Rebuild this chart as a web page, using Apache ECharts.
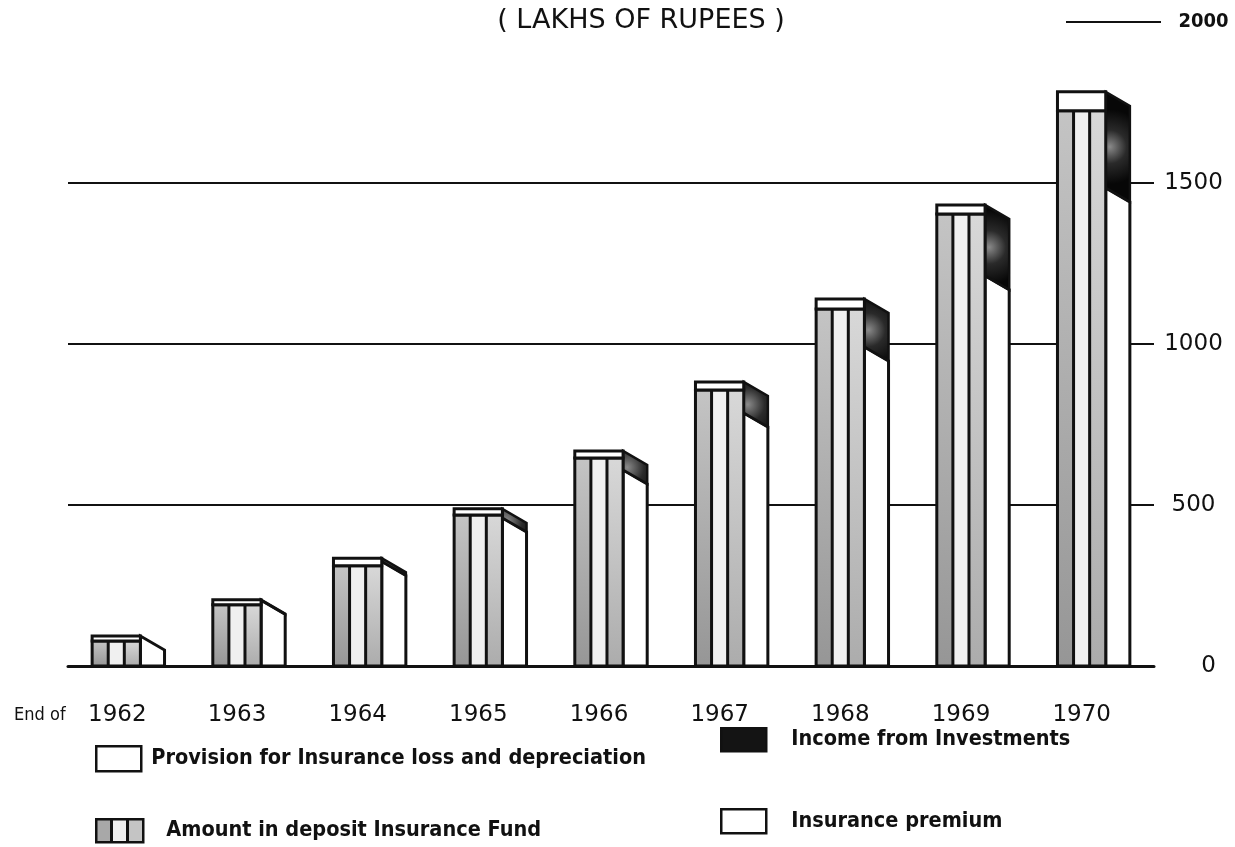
<!DOCTYPE html>
<html lang="en">
<head>
<meta charset="UTF-8">
<title>Deposit Insurance Fund</title>
<style>
  html, body { margin: 0; padding: 0; background: #fff; }
  #container { width: 1235px; height: 847px; }
</style>
</head>
<body>
<div id="container"></div>
<script src="https://cdn.jsdelivr.net/npm/echarts@6/dist/echarts.min.js"></script>
<script type="text/javascript">

// values in lakhs of rupees, end of each year
var years       = ['1962', '1963', '1964', '1965', '1966', '1967', '1968', '1969', '1970'];
var depositFund = [78, 190, 311, 469, 646, 857, 1109, 1404, 1724];
var provision   = [15, 16, 24, 19, 22, 25, 31, 28, 59];
var premium     = [93, 204, 325, 460, 609, 786, 991, 1212, 1485];
var income      = [0, 2, 10, 28, 59, 96, 149, 220, 298];
var yTicks      = [0, 500, 1000, 1500, 2000];

var FONT = '"DejaVu Sans Condensed", "DejaVu Sans", sans-serif';
var WIDE = '"DejaVu Sans", sans-serif';
var INK = '#111';
var SLOPE = 14;   // drop of the side face top edge (px)

var NAME_PROV = 'Provision for Insurance loss and depreciation';
var NAME_FUND = 'Amount in deposit Insurance Fund';
var NAME_INC  = 'Income from Investments';
var NAME_PREM = 'Insurance premium';

// [category index, from, to]
function stacked(lower, upper) {
  var out = [];
  for (var i = 0; i < years.length; i++) {
    var base = lower ? lower[i] : 0;
    out.push([i, base, base + upper[i]]);
  }
  return out;
}

function box(api) {
  var cx = api.coord([api.value(0), 0])[0];
  var band = api.size([1, 0])[0];
  return { x0: cx - band * 0.30, x1: cx + band * 0.10, x2: cx + band * 0.30 };
}

function ys(api) {
  return {
    top: api.coord([api.value(0), api.value(2)])[1],
    bot: api.coord([api.value(0), api.value(1)])[1]
  };
}

var stripeDark = new echarts.graphic.LinearGradient(0, 0, 0, 1, [
  { offset: 0, color: '#c4c4c4' }, { offset: 1, color: '#969696' }
]);
var stripeLight = new echarts.graphic.LinearGradient(0, 0, 0, 1, [
  { offset: 0, color: '#d8d8d8' }, { offset: 1, color: '#acacac' }
]);
var blackGlow = new echarts.graphic.RadialGradient(0.2, 0.5, 1.4, [
  { offset: 0, color: '#8a8a8a' }, { offset: 0.45, color: '#2a2a2a' }, { offset: 1, color: '#070707' }
]);

function renderFund(params, api) {
  var b = box(api), y = ys(api);
  var w = b.x1 - b.x0, s = w / 3, h = y.bot - y.top;
  return {
    type: 'group',
    children: [
      { type: 'rect', shape: { x: b.x0, y: y.top, width: s, height: h }, style: { fill: stripeDark } },
      { type: 'rect', shape: { x: b.x0 + s, y: y.top, width: s, height: h }, style: { fill: '#f0f0f0' } },
      { type: 'rect', shape: { x: b.x0 + 2 * s, y: y.top, width: s, height: h }, style: { fill: stripeLight } },
      { type: 'line', shape: { x1: b.x0 + s, y1: y.top, x2: b.x0 + s, y2: y.bot }, style: { stroke: INK, lineWidth: 3 } },
      { type: 'line', shape: { x1: b.x0 + 2 * s, y1: y.top, x2: b.x0 + 2 * s, y2: y.bot }, style: { stroke: INK, lineWidth: 3 } },
      { type: 'rect', shape: { x: b.x0, y: y.top, width: w, height: h }, style: { fill: 'none', stroke: INK, lineWidth: 3 } }
    ]
  };
}

function renderCap(params, api) {
  var b = box(api), y = ys(api);
  return {
    type: 'rect',
    shape: { x: b.x0, y: y.top, width: b.x1 - b.x0, height: y.bot - y.top },
    style: { fill: '#fff', stroke: INK, lineWidth: 3 }
  };
}

function renderPremium(params, api) {
  var b = box(api), y = ys(api);
  return {
    type: 'polygon',
    shape: { points: [[b.x1, y.bot], [b.x1, y.top], [b.x2, y.top + SLOPE], [b.x2, y.bot]] },
    style: { fill: '#fff', stroke: INK, lineWidth: 3 }
  };
}

function renderIncome(params, api) {
  if (api.value(2) <= api.value(1)) return null;
  var b = box(api), y = ys(api);
  return {
    type: 'polygon',
    shape: { points: [[b.x1, y.bot], [b.x1, y.top], [b.x2, y.top + SLOPE], [b.x2, y.bot + SLOPE]] },
    style: { fill: blackGlow, stroke: INK, lineWidth: 2.5 }
  };
}

function tickLabel(v) {
  if (v === 2000) return '{long|}{gap2|}{top|2000}';
  if (v === 0) return '{zero|0}{pad|}';
  return '{dash|}{gap|}{num|' + v + '}';
}

function legendAt(name, left, top, w, h, gap, itemStyle) {
  return {
    data: [{ name: name, icon: 'rect', itemStyle: itemStyle }],
    left: left, top: top, padding: 0,
    itemWidth: w, itemHeight: h,
    selectedMode: false,
    textStyle: { fontFamily: FONT, fontSize: 21.5, fontWeight: 'bold', color: INK, padding: [0, 0, 0, gap] }
  };
}

var stripedIcon = {
  type: 'linear', x: 0, y: 0, x2: 1, y2: 0,
  colorStops: [
    { offset: 0, color: '#a8a8a8' }, { offset: 0.31, color: '#a8a8a8' },
    { offset: 0.31, color: INK }, { offset: 0.37, color: INK },
    { offset: 0.37, color: '#efefef' }, { offset: 0.63, color: '#efefef' },
    { offset: 0.63, color: INK }, { offset: 0.69, color: INK },
    { offset: 0.69, color: '#c4c4c4' }, { offset: 1, color: '#c4c4c4' }
  ]
};

var dom = document.getElementById('container');
var myChart = echarts.init(dom);

var option = {
  animation: false,
  backgroundColor: '#fff',
  title: {
    text: '( LAKHS OF RUPEES )',
    left: 636, top: 2, textAlign: 'center',
    textStyle: { fontFamily: WIDE, fontSize: 27, fontWeight: 'normal', color: INK }
  },
  legend: [
    legendAt(NAME_PROV, 95, 745, 45, 25, 5, { color: '#fff', borderColor: INK, borderWidth: 2.5 }),
    legendAt(NAME_INC, 720, 727, 45, 23, 20, { color: '#141414', borderColor: INK, borderWidth: 2.5 }),
    legendAt(NAME_FUND, 95, 818, 47, 23, 18, { color: stripedIcon, borderColor: INK, borderWidth: 2.5 }),
    legendAt(NAME_PREM, 720, 808, 45, 24, 20, { color: '#fff', borderColor: INK, borderWidth: 2.5 })
  ],
  grid: { left: 68, right: 81, top: 22, bottom: 181 },
  xAxis: {
    type: 'category',
    data: years,
    axisLine: { lineStyle: { color: INK, width: 3 } },
    axisTick: { show: false },
    axisLabel: {
      interval: 0,
      margin: 34,
      formatter: function (value, index) {
        if (index === 0) return '{e|End of}{y|' + value + '}{p|}';
        return '{y|' + value + '}';
      },
      rich: {
        e: { width: 74, align: 'left', fontFamily: FONT, fontSize: 18, color: INK },
        y: { fontFamily: WIDE, fontSize: 23, color: INK, padding: [0, 24, 0, 0], lineHeight: 30 },
        p: { width: 72 }
      }
    }
  },
  yAxis: {
    type: 'value',
    position: 'right',
    min: yTicks[0],
    max: yTicks[yTicks.length - 1],
    interval: yTicks[1] - yTicks[0],
    axisLine: { show: false },
    axisTick: { show: false },
    splitLine: { show: true, showMinLine: false, showMaxLine: false, lineStyle: { color: INK, width: 2 } },
    axisLabel: {
      margin: 72,
      align: 'right',
      formatter: tickLabel,
      rich: {
        dash: { width: 18, height: 2, backgroundColor: INK },
        gap: { width: 12 },
        num: { width: 65, align: 'center', fontFamily: WIDE, fontSize: 23, color: INK },
        zero: { width: 55, align: 'right', fontFamily: WIDE, fontSize: 23, color: INK },
        pad: { width: 10 },
        long: { width: 95, height: 2, backgroundColor: INK },
        gap2: { width: 20 },
        top: { width: 45, align: 'center', fontFamily: FONT, fontSize: 20, fontWeight: 'bold', color: INK }
      }
    }
  },
  series: [
    { name: NAME_PREM, type: 'custom', z: 2, renderItem: renderPremium, encode: { x: 0, y: [1, 2] },
      itemStyle: { color: '#fff' }, data: stacked(null, premium) },
    { name: NAME_INC, type: 'custom', z: 3, renderItem: renderIncome, encode: { x: 0, y: [1, 2] },
      itemStyle: { color: '#141414' }, data: stacked(premium, income) },
    { name: NAME_FUND, type: 'custom', z: 4, renderItem: renderFund, encode: { x: 0, y: [1, 2] },
      itemStyle: { color: '#bbb' }, data: stacked(null, depositFund) },
    { name: NAME_PROV, type: 'custom', z: 5, renderItem: renderCap, encode: { x: 0, y: [1, 2] },
      itemStyle: { color: '#fff' }, data: stacked(depositFund, provision) }
  ]
};

myChart.setOption(option);
</script>
</body>
</html>
